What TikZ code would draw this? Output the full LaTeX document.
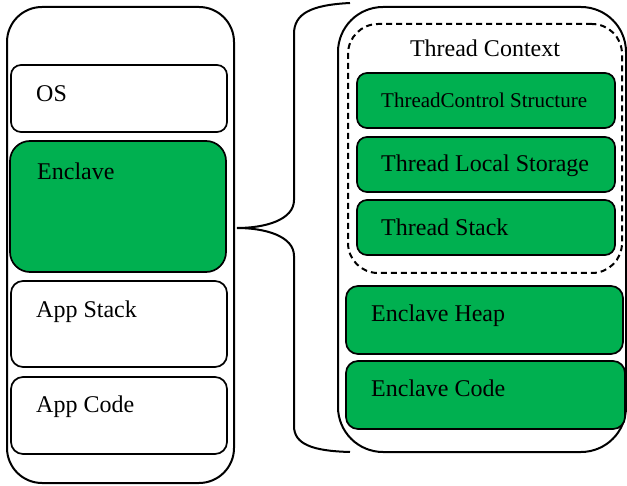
\documentclass[tikz,border=0pt]{standalone}
\usepackage{fontspec}
\setmainfont{Liberation Serif}
\definecolor{encgreen}{RGB}{0,176,80}
\begin{document}
\begin{tikzpicture}[x=1pt,y=-1pt,
  frame/.style={draw, line width=2pt, anchor=north west, inner sep=0pt, outer sep=0pt},
  block/.style={draw, line width=1.7pt, anchor=north west, inner sep=0pt, outer sep=0pt},
  label/.style={anchor=base west, inner sep=0pt, font=\fontsize{24}{28}\selectfont},
  small/.style={anchor=base west, inner sep=0pt, font=\fontsize{21}{25}\selectfont}]
\useasboundingbox (0,0) rectangle (627,486);

% left column: process address space
\node[frame, rounded corners=35pt, minimum width=227pt, minimum height=476pt] (space) at (7,7) {};
\node[block, rounded corners=10pt, minimum width=216pt, minimum height=67pt] (os) at (11,65) {};
\node[block, fill=encgreen, rounded corners=20pt, minimum width=216pt, minimum height=131pt] (enc) at (10,141) {};
\node[block, rounded corners=12pt, minimum width=216pt, minimum height=86pt] (astack) at (11,281) {};
\node[block, rounded corners=12pt, minimum width=216pt, minimum height=77pt] (acode) at (11,377) {};

\node[label] (tos) at (36,101.6) {OS};
\node[label] (tenc) at (37,180) {Enclave};
\node[label] (tastack) at (36,318) {App Stack};
\node[label] (tacode) at (36,413) {App Code};

% right column: enclave contents
\node[frame, rounded corners=45pt, minimum width=288pt, minimum height=445pt] (encl) at (338,7) {};
\node[block, line width=2pt, dash pattern=on 6pt off 4pt, rounded corners=30pt, minimum width=274pt, minimum height=249pt] (ctx) at (348,24) {};
\node[anchor=base, inner sep=0pt, font=\fontsize{24}{28}\selectfont] (tctx) at (485,56.7) {Thread Context};

\node[block, fill=encgreen, rounded corners=10pt, minimum width=258pt, minimum height=55pt] (tcs) at (357,73) {};
\node[block, fill=encgreen, rounded corners=10pt, minimum width=258pt, minimum height=55pt] (tls) at (357,137) {};
\node[block, fill=encgreen, rounded corners=10pt, minimum width=258pt, minimum height=55pt] (tstk) at (357,200) {};
\node[block, fill=encgreen, rounded corners=12pt, minimum width=277pt, minimum height=68pt] (heap) at (346,286) {};
\node[block, fill=encgreen, rounded corners=12pt, minimum width=279pt, minimum height=68pt] (ecode) at (346,361) {};

\node[small] (ttcs) at (381,107.3) {ThreadControl Structure};
\node[label] (ttls) at (381,171.7) {Thread Local Storage};
\node[label] (ttstk) at (381,235.7) {Thread Stack};
\node[label] (theap) at (371,322) {Enclave Heap};
\node[label] (tecode) at (371,397) {Enclave Code};

% curly brace expanding the enclave
\coordinate (btop) at (350,3);
\coordinate (btip) at (237,228);
\coordinate (bbot) at (350,452);
\draw[line width=2pt]
  (btop) .. controls (310,5) and (294,14) .. (294,34)
  -- (294,200) .. controls (294,220) and (265,228) .. (btip)
  .. controls (265,228) and (294,236) .. (294,256)
  -- (294,426) .. controls (294,444) and (312,451) .. (bbot);
\end{tikzpicture}
\end{document}
